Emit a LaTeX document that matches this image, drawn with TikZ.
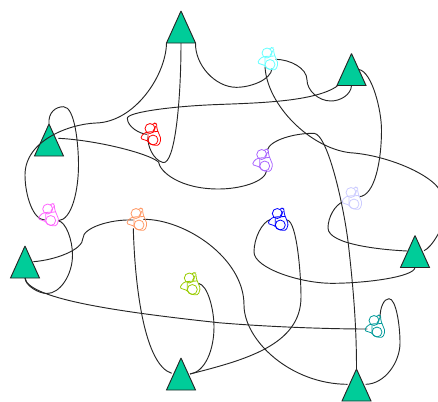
\documentclass[tikz,border=0pt]{standalone}
\usetikzlibrary{shapes.geometric}
\definecolor{trigreen}{RGB}{0,204,153}
\definecolor{pcyan}{RGB}{102,255,255}
\definecolor{ppurple}{RGB}{170,102,255}
\definecolor{plav}{RGB}{204,204,255}
\definecolor{ppink}{RGB}{255,102,255}
\definecolor{porange}{RGB}{255,153,102}
\definecolor{polive}{RGB}{153,204,0}
\definecolor{pteal}{RGB}{0,153,153}
\tikzset{
  tri/.style={isosceles triangle, isosceles triangle stretches, shape border rotate=90,
    minimum width=21.75pt, minimum height=24pt, inner sep=0pt, outer sep=0pt,
    draw=black!85, fill=trigreen, line width=0.7pt, anchor=apex, miter limit=2},
  wire/.style={black!85, line width=0.7pt},
  person/.pic={
    \path[pic actions, line width=0.6pt] (-1,-5.5) circle[radius=5];
    \path[pic actions, line width=0.6pt, rounded corners=1pt] (1.5,-9.5) -- (3,-11) -- (5.5,-10.5) -- (6,-5) -- (10,5) -- (8,11) -- (5,11.5) -- (-1,10) -- (-3,7) -- (-10.5,4.5) -- (-8,0) -- (-4,-2) -- (7,-2.5);
    \path[pic actions, line width=0.6pt] (2,6) circle[radius=5];
    \path[pic actions, line width=0.6pt] (-3,7) -- (-3,-1) (5,-8) -- (2,-3);
  }
}
\begin{document}
\begin{tikzpicture}[x=0.75pt,y=-0.75pt]
\useasboundingbox (0,0) rectangle (438,401);
\node[tri] (t1) at (181,11) {};
\node[tri] (t2) at (351.5,53.5) {};
\node[tri] (t3) at (49,124) {};
\node[tri] (t4) at (25,246) {};
\node[tri] (t5) at (181,358) {};
\node[tri] (t6) at (415,235.5) {};
\node[tri] (t7) at (356.5,369) {};
\coordinate (red) at (151,134);
\coordinate (cya) at (268,58.5);
\coordinate (pur) at (262.7,160);
\coordinate (lav) at (352,198);
\coordinate (pin) at (48.7,214.5);
\coordinate (ora) at (137,219);
\coordinate (oli) at (190.3,283.5);
\coordinate (blu) at (278.3,219);
\coordinate (tea) at (375,326);
% connectors
\draw[wire] ([shift={(-14.5,32)}]t1.apex) .. controls (166,75) and (135,122) .. (96,123) .. controls (70,124) and (25,140) .. (25,175) .. controls (25,195) and (33,220) .. ([shift={(-4,5.5)}]pin);
\draw[wire] (t1.lower side) .. controls (181,100) and (175,165) .. (163,162.5) .. controls (153,160) and (147,145) .. ([shift={(-3,2.5)}]red);
\draw[wire] ([shift={(14.5,32)}]t1.apex) .. controls (195,65) and (215,87) .. (236,87.3) .. controls (250,87.5) and (271,80) .. ([shift={(4,10)}]cya);
\draw[wire] (t3.apex) .. controls (48,112) and (56,106.7) .. (63.5,106.7) .. controls (75,106.7) and (78.5,145) .. (78.5,165) .. controls (78.5,190) and (72,220) .. ([shift={(9.5,6.2)}]pin);
\draw[wire] ([shift={(9.3,14.3)}]t3.apex) .. controls (95,140) and (148,153) .. (158.5,162) .. controls (160,172) and (180,189) .. (218.5,189) .. controls (240,189) and (265,182) .. ([shift={(4,10.7)}]pur);
\draw[wire] ([shift={(-14.2,32.5)}]t2.apex) .. controls (315,102) and (255,103) .. (218.3,104.5) .. controls (175,106) and (127,112) .. (127.3,118.3) .. controls (127.5,127) and (140,134) .. ([shift={(-4,0.3)}]red);
\draw[wire] (t2.lower side) .. controls (351,95) and (340,101) .. (331,101) .. controls (318,101) and (307,90) .. (307,80) .. controls (307,68) and (290,59.5) .. ([shift={(7.7,0.8)}]cya);
\draw[wire] ([shift={(7.5,16)}]t2.apex) .. controls (372,72) and (381.5,110) .. (381.5,130) .. controls (381.5,160) and (375,196) .. ([shift={(7,-1.3)}]lav);
\draw[wire] ([shift={(-3,8.2)}]cya) .. controls (267,105) and (310,148) .. (350,152.7) .. controls (385,155) and (425,172) .. (437.3,186.7) .. controls (444,195) and (445,225) .. (437,236) .. controls (433,243) and (428,249) .. ([shift={(9,15.2)}]t6.apex);
\draw[wire] ([shift={(4.6,-10)}]pur) .. controls (270,140) and (295,133) .. (314,133.3) .. controls (328,134) and (345,210) .. (349,250) .. controls (354,295) and (356.5,330) .. (t7.apex);
\draw[wire] ([shift={(-9,3.7)}]lav) .. controls (335,205) and (328,217) .. (328,228) .. controls (328,245) and (385,250) .. ([shift={(-7.7,15.5)}]t6.apex);
\draw[wire] ([shift={(-7.6,0.3)}]blu) .. controls (262,222) and (254,238) .. (254,252) .. controls (254,268) and (300,283.3) .. (332,283.3) .. controls (365,283.3) and (414,277) .. (t6.lower side);
\draw[wire] ([shift={(9,1)}]blu) .. controls (297,222) and (301,275) .. (301,297) .. controls (301,345) and (245,360) .. ([shift={(9,16)}]t5.apex);
\draw[wire] ([shift={(6.3,0.3)}]ora) .. controls (185,219) and (244,258) .. (244,305) .. controls (244,340) and (290,384) .. ([shift={(-9,15.3)}]t7.apex);
\draw[wire] ([shift={(8.3,15.7)}]t4.apex) .. controls (55,260) and (83,250) .. (83,238) .. controls (83,228) and (110,219) .. ([shift={(-3.7,1)}]ora);
\draw[wire] ([shift={(-3.7,9.3)}]ora) .. controls (135,290) and (145,365) .. ([shift={(-9.3,15.3)}]t5.apex);
\draw[wire] ([shift={(8,-0.2)}]oli) .. controls (208,285) and (214,310) .. (214,327) .. controls (214,350) and (205,372) .. ([shift={(9,16)}]t5.apex);
\draw[wire] (t4.lower side) .. controls (28,300) and (130,313) .. (218.5,322.7) .. controls (270,327) and (330,329) .. ([shift={(-7.7,3)}]tea);
\draw[wire] (t4.lower side) .. controls (25,285) and (38,293.5) .. (47,293.5) .. controls (60,293.5) and (72.5,275) .. (72.5,255) .. controls (72.5,240) and (66,222) .. ([shift={(9.5,6.2)}]pin);
\draw[wire] ([shift={(5,-7.7)}]tea) .. controls (380,307) and (384,298.7) .. (389,298.7) .. controls (396,298.7) and (400,325) .. (400,343) .. controls (400,362) and (385,384) .. ([shift={(9.2,15.3)}]t7.apex);
% figures
\pic[draw=red] at (red) {person};
\pic[draw=pcyan] at (cya) {person};
\pic[draw=ppurple] at (pur) {person};
\pic[draw=plav] at (lav) {person};
\pic[draw=ppink] at (pin) {person};
\pic[draw=porange] at (ora) {person};
\pic[draw=polive] at (oli) {person};
\pic[draw=blue] at (blu) {person};
\pic[draw=pteal] at (tea) {person};
\end{tikzpicture}
\end{document}
